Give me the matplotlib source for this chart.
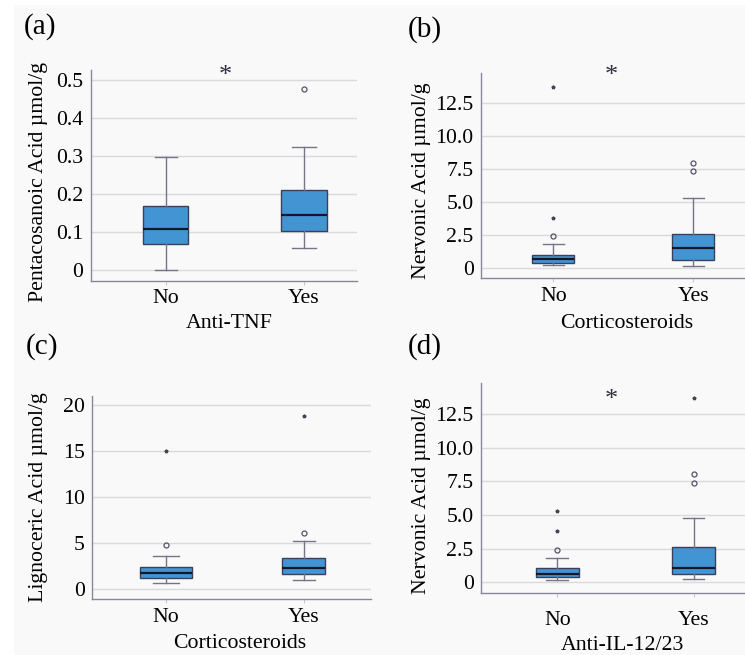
import matplotlib
matplotlib.use('Agg')
import matplotlib.pyplot as plt
from matplotlib.patches import Rectangle

plt.rcParams['font.family'] = ['Liberation Serif', 'DejaVu Serif']

groups = ['No', 'Yes']

# box stats: [whisker low, q1, median, q3, whisker high]
a_no = [0.0, 0.066, 0.107, 0.167, 0.296]
a_yes = [0.057, 0.102, 0.145, 0.210, 0.322]
a_out = [[], [0.476]]        # circles
a_ext = [[], []]             # stars

b_no = [0.18, 0.35, 0.66, 0.96, 1.77]
b_yes = [0.13, 0.60, 1.46, 2.58, 5.28]
b_out = [[2.37], [7.32, 7.95]]
b_ext = [[3.74, 13.69], []]

c_no = [0.65, 1.27, 1.74, 2.39, 3.66]
c_yes = [1.01, 1.70, 2.28, 3.44, 5.25]
c_out = [[4.86], [6.09]]
c_ext = [[15.0], [18.8]]

d_no = [0.15, 0.37, 0.64, 1.04, 1.83]
d_yes = [0.27, 0.62, 1.04, 2.62, 4.75]
d_out = [[2.43], [7.38, 8.02]]
d_ext = [[3.81, 5.32], [13.69]]

a_ticks = [0, 0.1, 0.2, 0.3, 0.4, 0.5]
a_ticklabels = ['0', '0.1', '0.2', '0.3', '0.4', '0.5']
b_ticks = [0, 2.5, 5.0, 7.5, 10.0, 12.5]
b_ticklabels = ['0', '2.5', '5.0', '7.5', '10.0', '12.5']
c_ticks = [0, 5, 10, 15, 20]
c_ticklabels = ['0', '5', '10', '15', '20']

W, H = 745, 655
fig = plt.figure(figsize=(W / 100, H / 100), dpi=100, facecolor='white')
fig.patches.append(Rectangle((14 / W, 0), 1, 1 - 5 / H, transform=fig.transFigure,
                             facecolor='#f9f9f9', edgecolor='none', zorder=-10))

BLUE = '#4394d3'
DARK = '#3c3f58'
GRAY = '#77738a'
SPINE = '#8a879a'
GRID = '#dadada'
FS = 15.7


def px(x, y):
    return x / W, 1 - y / H


def panel(rect, no, yes, out, ext, widths, xlim, ylim, ticks, ticklabels, tickpad):
    l, t, r, b = rect
    ax = fig.add_axes([l / W, 1 - b / H, (r - l) / W, (b - t) / H])
    ax.set_facecolor('none')
    stats = []
    for i, s in enumerate([no, yes]):
        stats.append(dict(whislo=s[0], q1=s[1], med=s[2], q3=s[3], whishi=s[4],
                          fliers=out[i], label=groups[i]))
    ax.bxp(stats, positions=[0, 1], widths=widths, capwidths=[w / 2 for w in widths],
           patch_artist=True, showfliers=True,
           boxprops=dict(facecolor=BLUE, edgecolor=DARK, linewidth=1.0),
           medianprops=dict(color='#15162a', linewidth=1.6),
           whiskerprops=dict(color=GRAY, linewidth=1.0),
           capprops=dict(color=GRAY, linewidth=1.0),
           flierprops=dict(marker='o', markersize=3.6, markerfacecolor='none',
                           markeredgecolor='#55536a', markeredgewidth=0.9))
    for i in range(2):
        if ext[i]:
            ax.plot([i] * len(ext[i]), ext[i], linestyle='none', marker='*',
                    markersize=2.6, color='#44425a')
    ax.set_xlim(*xlim)
    ax.set_ylim(*ylim)
    ax.set_yticks(ticks)
    ax.set_yticklabels(ticklabels, fontsize=FS)
    ax.set_xticks([0, 1])
    ax.set_xticklabels(groups, fontsize=FS)
    ax.tick_params(axis='y', length=0, pad=5.5)
    ax.tick_params(axis='x', length=3, color='#c8c8c8', pad=tickpad)
    ax.grid(axis='y', color=GRID, linewidth=1.0)
    ax.set_axisbelow(True)
    for s in ['top', 'right']:
        ax.spines[s].set_visible(False)
    for s in ['left', 'bottom']:
        ax.spines[s].set_color(SPINE)
        ax.spines[s].set_linewidth(1.0)
    return ax


panel((91, 70, 357, 280.5), a_no, a_yes, a_out, a_ext, [0.326, 0.34],
      (-0.543, 1.384), (-0.029, 0.526), a_ticks, a_ticklabels, 3)
panel((481.3, 72.7, 745, 278.3), b_no, b_yes, b_out, b_ext, [0.298, 0.302],
      (-0.514, 1.371), (-0.8, 14.77), b_ticks, b_ticklabels, 3)
panel((92.3, 396, 371, 599.3), c_no, c_yes, c_out, c_ext, [0.374, 0.311],
      (-0.531, 1.485), (-1.09, 21.0), c_ticks, c_ticklabels, 3)
panel((481.3, 383.3, 745, 592.7), d_no, d_yes, d_out, d_ext, [0.317, 0.312],
      (-0.556, 1.375), (-0.77, 14.78), b_ticks, b_ticklabels, 10)

# panel letters
for lab, (x, y) in zip(['(a)', '(b)', '(c)', '(d)'],
                       [(40, 27), (425, 30), (42, 347), (425, 347)]):
    fig.text(*px(x, y), lab, fontsize=21, ha='center', va='center')

# y titles
ylabs = ['Pentacosanoic Acid µmol/g', 'Nervonic Acid µmol/g',
         'Lignoceric Acid µmol/g', 'Nervonic Acid µmol/g']
for lab, (x, y) in zip(ylabs, [(39, 182), (421, 181), (39, 497), (421, 496)]):
    fig.text(*px(x, y), lab, fontsize=FS, rotation=90, ha='center', va='center')

# x titles
xlabs = ['Anti-TNF', 'Corticosteroids', 'Corticosteroids', 'Anti-IL-12/23']
for lab, (x, y) in zip(xlabs, [(229, 324), (627, 323), (240, 644), (622, 645)]):
    fig.text(*px(x, y), lab, fontsize=FS, ha='center', va='center')

# significance marks
for x, y in [(225, 76), (611, 76), (611, 400)]:
    fig.text(*px(x, y), '*', fontsize=19, ha='center', va='center', color='#2e2e3e')

fig.savefig('out.png', dpi=100, facecolor=fig.get_facecolor())
